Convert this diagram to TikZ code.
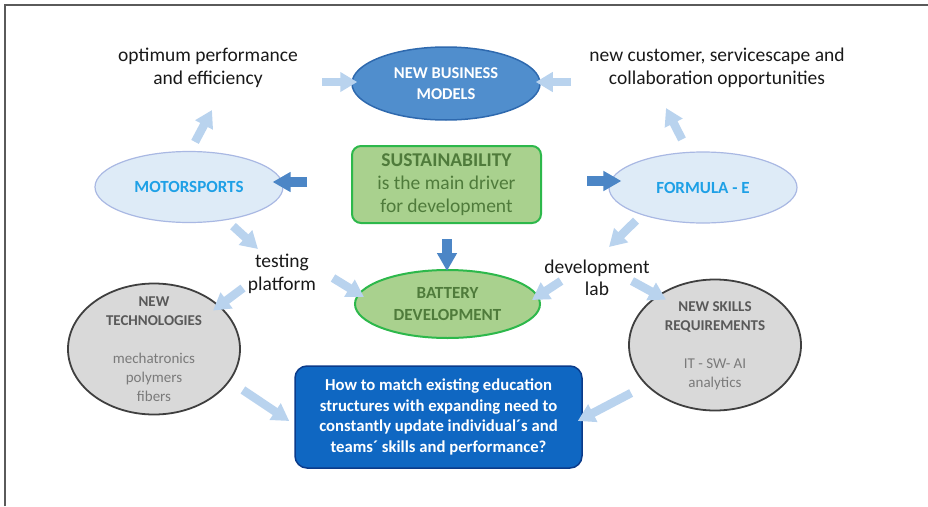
\documentclass[tikz,border=0pt]{standalone}
\usepackage{fontspec}
\setmainfont{Carlito}
\usepackage{tikz}
\usetikzlibrary{shapes.geometric,arrows.meta}

\definecolor{framegray}{HTML}{5A5A5A}
\definecolor{bizfill}{HTML}{508ECD}
\definecolor{bizedge}{HTML}{2E69AE}
\definecolor{racefill}{HTML}{DEEBF7}
\definecolor{raceedge}{HTML}{A9B8E3}
\definecolor{racetext}{HTML}{1EA0E6}
\definecolor{greenfill}{HTML}{A9D18E}
\definecolor{greenedge}{HTML}{2DB84B}
\definecolor{greentext}{HTML}{4F7B3B}
\definecolor{grayfill}{HTML}{D9D9D9}
\definecolor{grayedge}{HTML}{3F3F3F}
\definecolor{grayhead}{HTML}{595959}
\definecolor{graytxt}{HTML}{7A7A7A}
\definecolor{questfill}{HTML}{0F67C2}
\definecolor{questedge}{HTML}{0B3B8A}
\definecolor{softblue}{HTML}{B9D3EE}
\definecolor{midblue}{HTML}{4C86C6}

\begin{document}
\begin{tikzpicture}[x=1pt, y=-1pt, every node/.style={align=center},
  note/.style={font=\fontsize{19.5}{22.5}\selectfont, text=black!90},
  bizoval/.style={ellipse, draw=bizedge, fill=bizfill, line width=1.5pt, minimum width=188pt, minimum height=73pt, text=white, font=\bfseries\fontsize{16.5}{21}\selectfont},
  raceoval/.style={ellipse, draw=raceedge, fill=racefill, line width=1.2pt, minimum width=188pt, minimum height=71pt, text=racetext, font=\bfseries\fontsize{17}{20}\selectfont},
  greenbox/.style={rectangle, rounded corners=9pt, draw=greenedge, fill=greenfill, line width=2pt, minimum width=189pt, minimum height=77pt, text=greentext, font=\fontsize{19.5}{23}\selectfont},
  greenoval/.style={ellipse, draw=greenedge, fill=greenfill, line width=2pt, minimum width=185pt, minimum height=68pt, text=greentext, font=\bfseries\fontsize{17}{21.5}\selectfont},
  grayoval/.style={ellipse, draw=grayedge, fill=grayfill, line width=1.8pt, minimum width=172pt, minimum height=131pt},
  graytext/.style={text=graytxt, font=\fontsize{15}{19}\selectfont},
  questbox/.style={rectangle, rounded corners=12pt, draw=questedge, fill=questfill, line width=1.5pt, minimum width=287pt, minimum height=102pt, text=white, font=\bfseries\fontsize{16.7}{20.5}\selectfont},
  softarrow/.style={draw=softblue, line width=8.5pt, -{Triangle[width=19pt,length=17pt]}},
  darkarrow/.style={draw=midblue, line width=10pt, -{Triangle[width=19pt,length=18pt]}}]
\useasboundingbox (0,0) rectangle (928,506);
\draw[framegray, line width=1.6pt] (5,506) -- (5,5) -- (928,5);

\node[note] (opt) at (208,68) {optimum performance\\and efficiency};
\node[note] (cust) at (717,68) {new customer, servicescape and\\collaboration opportunities};
\node[bizoval] (nbm) at (446,83.5) {NEW BUSINESS\\MODELS};

\node[greenbox] (sus) at (446.5,184.5) {\textbf{SUSTAINABILITY}\\is the main driver\\for development};
\node[raceoval] (ms) at (189,187) {MOTORSPORTS};
\node[raceoval] (fe) at (703,187.5) {FORMULA - E};

\node[greenoval] (bat) at (447.5,304) {BATTERY\\DEVELOPMENT};
\node[note] (test) at (282,274) {testing\\platform};
\node[note] (lab) at (597,278) {development\\lab};

\node[grayoval] (tech) at (154,349) {};
\node[graytext] (techtxt) at (tech) {{\color{grayhead}\bfseries NEW}\\{\color{grayhead}\bfseries TECHNOLOGIES}\\[19pt]mechatronics\\polymers\\fibers};
\node[grayoval] (skills) at (715,345) {};
\node[graytext] (skillstxt) at (715,346) {{\color{grayhead}\bfseries NEW SKILLS}\\{\color{grayhead}\bfseries REQUIREMENTS}\\[19pt]IT - SW- AI\\analytics};

\node[questbox] (quest) at (438.5,417) {How to match existing education\\structures with expanding need to\\constantly update individual´s and\\teams´ skills and performance?};

% top row
\draw[softarrow] ([shift={(6,-9)}]ms.north) -- ([shift={(4,42)}]opt.center);
\draw[softarrow] ([shift={(-21,-12)}]fe.north) -- ([shift={(-51,40)}]cust.center);
\draw[softarrow] ([shift={(114,14)}]opt.center) -- ([shift={(6,-1.5)}]nbm.west);
\draw[softarrow] ([shift={(-146,14)}]cust.center) -- ([shift={(-5,-1.5)}]nbm.east);

% out of the green box
\draw[darkarrow] ([shift={(-44,-2.5)}]sus.west) -- ([shift={(-11,-5)}]ms.east);
\draw[darkarrow] ([shift={(45,-3.5)}]sus.east) -- ([shift={(13,-6.5)}]fe.west);
\draw[darkarrow] ([shift={(0.5,15)}]sus.south) -- ([shift={(-0.5,2)}]bat.north);

% middle row
\draw[softarrow] ([shift={(44,3)}]ms.south) -- ([shift={(-24,-25)}]test.center);
\draw[softarrow] ([shift={(-67,-3)}]fe.south) -- ([shift={(12,-31)}]lab.center);
\draw[softarrow] ([shift={(51,4)}]test.center) -- ([shift={(10,-7)}]bat.west);
\draw[softarrow] ([shift={(-36,3)}]lab.center) -- ([shift={(-9,-4)}]bat.east);
\draw[softarrow] ([shift={(-39,14)}]test.center) -- ([shift={(59,28)}]tech.north);
\draw[softarrow] ([shift={(35,3)}]lab.center) -- ([shift={(-49,21)}]skills.north);

% into the question
\draw[softarrow] ([shift={(2,41)}]tech.east) -- ([shift={(-5,4)}]quest.west);
\draw[softarrow] ([shift={(3,48)}]skills.west) -- ([shift={(-5,4)}]quest.east);
\end{tikzpicture}
\end{document}
